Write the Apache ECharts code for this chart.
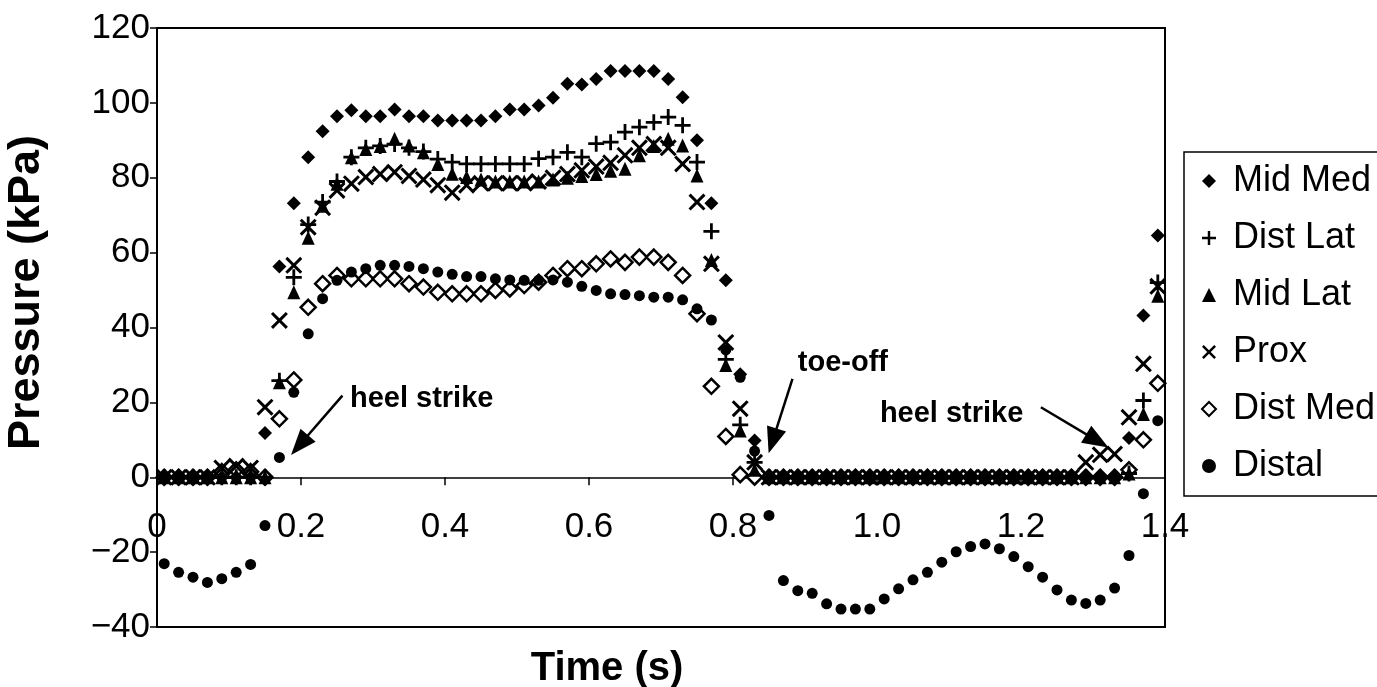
<!DOCTYPE html>
<html>
<head>
<meta charset="utf-8">
<script src="https://cdn.jsdelivr.net/npm/echarts@6/dist/echarts.min.js"></script>
<style>
  html,body{margin:0;padding:0;background:#fff;}
  #cmChart{width:1377px;height:687px;}
</style>
</head>
<body>
<div id="cmChart"></div>
<script>
// sample times (s)
var times = [0.01,0.03,0.05,0.07,0.09,0.11,0.13,0.15,0.17,0.19,
	0.21,0.23,0.25,0.27,0.29,0.31,0.33,0.35,0.37,0.39,
	0.41,0.43,0.45,0.47,0.49,0.51,0.53,0.55,0.57,0.59,
	0.61,0.63,0.65,0.67,0.69,0.71,0.73,0.75,0.77,0.79,
	0.81,0.83,0.85,0.87,0.89,0.91,0.93,0.95,0.97,0.99,
	1.01,1.03,1.05,1.07,1.09,1.11,1.13,1.15,1.17,1.19,
	1.21,1.23,1.25,1.27,1.29,1.31,1.33,1.35,1.37,1.39];

// pressure (kPa) per sensor
var midMed = [0,0,0,0,0,0,0,11.8,56.3,73.2,
	85.5,92.4,96.4,98.0,96.4,96.4,98.2,96.4,96.4,95.3,
	95.3,95.3,95.3,96.4,98.2,98.2,99.3,101.4,105.1,104.9,
	106.4,108.5,108.5,108.5,108.5,106.4,101.5,90.0,73.2,52.6,
	27.5,9.8,0,0,0,0,0,0,0,0,
	0,0,0,0,0,0,0,0,0,0,
	0,0,0,0,0,0,0,10.5,43.2,64.6];
var distLat = [0,0,0,0,0,0,0,0,25.8,53.4,
	67.5,73.5,79.0,85.5,88.0,88.5,89.0,88.0,87.0,85.0,
	84.2,83.7,83.7,83.7,83.7,83.7,85.1,85.5,86.8,85.5,
	89.1,89.5,92.2,93.5,94.8,96.2,94.0,84.2,65.7,31.5,
	14.0,4.0,0,0,0,0,0,0,0,0,
	0,0,0,0,0,0,0,0,0,0,
	0,0,0,0,0,0,0,1.0,20.5,52.0];
var midLat = [0,0,0,0,0,0,0,0,25.4,49.4,
	64.0,72.5,78.4,85.5,87.7,88.5,90.4,88.6,86.8,83.7,
	81.1,80.2,79.5,79.0,79.0,79.0,79.0,79.5,80.0,80.5,
	81.0,81.9,82.4,86.0,88.5,90.4,88.6,80.6,58.0,30.0,
	12.5,2.0,0,0,0,0,0,0,0,0,
	0,0,0,0,0,0,0,0,0,0,
	0,0,0,0,0,0,0,1.0,16.9,48.5];
var prox = [0,0,0,0,2.5,3.0,2.5,18.7,41.9,56.6,
	66.8,72.0,76.6,78.4,80.2,81.0,81.5,80.5,79.5,78.0,
	76.0,78.0,78.5,78.5,78.5,78.5,79.0,80.0,81.0,82.0,
	83.0,84.0,86.0,88.0,89.0,88.0,83.7,73.5,57.0,36.0,
	18.3,4.0,0,0,0,0,0,0,0,0,
	0,0,0,0,0,0,0,0,0,0,
	0,0,0,0,4.0,6.0,6.2,16.0,30.3,51.0];
var distMed = [0,0,0,0,1.5,2.0,1.5,0,15.6,26.0,
	45.4,51.7,53.9,53.0,53.0,53.0,53.0,51.7,50.8,49.4,
	49.0,49.0,49.0,49.9,50.3,51.2,52.1,53.9,55.7,55.7,
	57.0,58.3,57.4,58.8,58.8,57.4,53.9,43.7,24.3,10.9,
	0.7,0,0,0,0,0,0,0,0,0,
	0,0,0,0,0,0,0,0,0,0,
	0,0,0,0,0,0,0,2.0,10.0,25.1];
var distal = [-23.1,-25.4,-26.7,-28.1,-27.1,-25.4,-23.3,-12.9,5.3,22.7,
	38.3,47.7,52.6,54.8,55.7,56.6,56.6,56.3,55.7,54.8,
	54.2,53.6,53.6,53.0,52.7,52.6,52.6,52.7,52.1,51.0,
	49.9,49.0,48.8,48.5,48.1,48.1,47.4,45.0,42.0,34.0,
	26.7,7.0,-10.2,-27.6,-30.3,-31.0,-33.8,-35.2,-35.2,-35.2,
	-32.5,-29.8,-27.4,-25.4,-22.7,-19.9,-18.5,-17.8,-19.1,-21.2,
	-23.9,-26.7,-30.1,-32.8,-33.7,-32.8,-29.6,-20.9,-4.4,15.1];

var names = ['Mid Med','Dist Lat','Mid Lat','Prox','Dist Med','Distal'];

// annotations: text [t, kPa] and arrows [from, to]
var notes = [
	{text:'heel strike', at:[0.268,21.0]},
	{text:'toe-off', at:[0.890,30.6]},
	{text:'heel strike', at:[1.004,16.8]}
];
var arrows = [
	[[0.2575,21.8],[0.198,8.6]],
	[[0.8826,26.3],[0.855,9.7]],
	[[1.2276,18.7],[1.306,9.7]]
];

var font = 'Liberation Sans, Arial, Helvetica, sans-serif';
var plusPath = 'path://M6.6,0H9.4V6.6H16V9.4H9.4V16H6.6V9.4H0V6.6H6.6Z';
var crossPath = 'path://M0,2L2,0L8,6L14,0L16,2L10,8L16,14L14,16L8,10L2,16L0,14L6,8Z';
var solid = {color:'#000',opacity:1};

function pts(vals){
	return times.map(function(t,i){ return [t, vals[i]]; });
}

var myChart = echarts.init(document.getElementById('cmChart'));
option = {
	animation:false,
	backgroundColor:'#fff',
	textStyle:{fontFamily:font,color:'#000'},
	grid:{left:157,right:212,top:28,bottom:60,containLabel:false,outerBoundsMode:'none',
		show:true,borderColor:'#000',borderWidth:2},
	legend:{
		orient:'vertical',left:1184,top:152,
		padding:[11,8,12,17],itemGap:21,itemWidth:14,itemHeight:14,
		borderColor:'#000',borderWidth:1.5,selectedMode:false,
		textStyle:{fontSize:36,color:'#000',fontFamily:font,padding:[0,0,0,12]},
		data:names
	},
	xAxis:{
		type:'value',min:0,max:1.4,interval:0.2,
		name:'Time (s)',nameLocation:'middle',nameGap:22,
		nameTextStyle:{fontSize:40,fontWeight:'bold',color:'#000',fontFamily:font,padding:[0,108,0,0]},
		axisLine:{onZero:true,lineStyle:{color:'#000',width:1.5}},
		axisTick:{inside:false,length:8,lineStyle:{color:'#000',width:1.5}},
		// labels sit just under the zero line, well above the frame bottom
		axisLabel:{margin:-117,fontSize:35,color:'#000',fontFamily:font,
			formatter:function(v){ return v===0 ? '0' : v.toFixed(1); }},
		splitLine:{show:false}
	},
	yAxis:{
		type:'value',min:-40,max:120,interval:20,
		name:'Pressure (kPa)',nameLocation:'middle',nameGap:108,
		nameTextStyle:{fontSize:45,fontWeight:'bold',color:'#000',fontFamily:font,padding:[0,0,0,70]},
		axisLine:{show:true,onZero:false,lineStyle:{color:'#000',width:2}},
		axisTick:{show:true,inside:false,length:7,lineStyle:{color:'#000',width:1.5}},
		axisLabel:{margin:7,fontSize:35,color:'#000',fontFamily:font,
			formatter:function(v){ return v<0 ? '\u2212'+(-v) : ''+v; }},
		splitLine:{show:false}
	},
	series:[
		{name:'Mid Med',type:'scatter',z:3,data:pts(midMed),symbol:'diamond',symbolSize:14,itemStyle:solid},
		{name:'Dist Lat',type:'scatter',z:3,data:pts(distLat),symbol:plusPath,symbolSize:16,itemStyle:solid},
		{name:'Mid Lat',type:'scatter',z:3,data:pts(midLat),symbol:'triangle',symbolSize:[13,14],itemStyle:solid},
		{name:'Prox',type:'scatter',z:3,data:pts(prox),symbol:crossPath,symbolSize:17,itemStyle:solid},
		{name:'Dist Med',type:'scatter',z:2,data:pts(distMed),symbol:'diamond',symbolSize:15,
			itemStyle:{color:'#fff',opacity:1,borderColor:'#000',borderWidth:2.5}},
		{name:'Distal',type:'scatter',z:3,data:pts(distal),symbol:'circle',symbolSize:11,itemStyle:solid,
			markLine:{
				silent:true,animation:false,
				lineStyle:{color:'#000',width:2.5,type:'solid',opacity:1},
				label:{show:false},
				data:arrows.map(function(a){
					return [{coord:a[0],symbol:'none'},{coord:a[1],symbol:'triangle',symbolSize:[20,26]}];
				})
			},
			markPoint:{
				silent:true,symbol:'circle',symbolSize:0,
				label:{show:true,position:'right',distance:0,color:'#000',fontSize:29,fontWeight:'bold',fontFamily:font,
					formatter:function(p){ return p.name; }},
				data:notes.map(function(n){ return {name:n.text,coord:n.at}; })
			}
		}
	]
};
myChart.setOption(option);
</script>
</body>
</html>
